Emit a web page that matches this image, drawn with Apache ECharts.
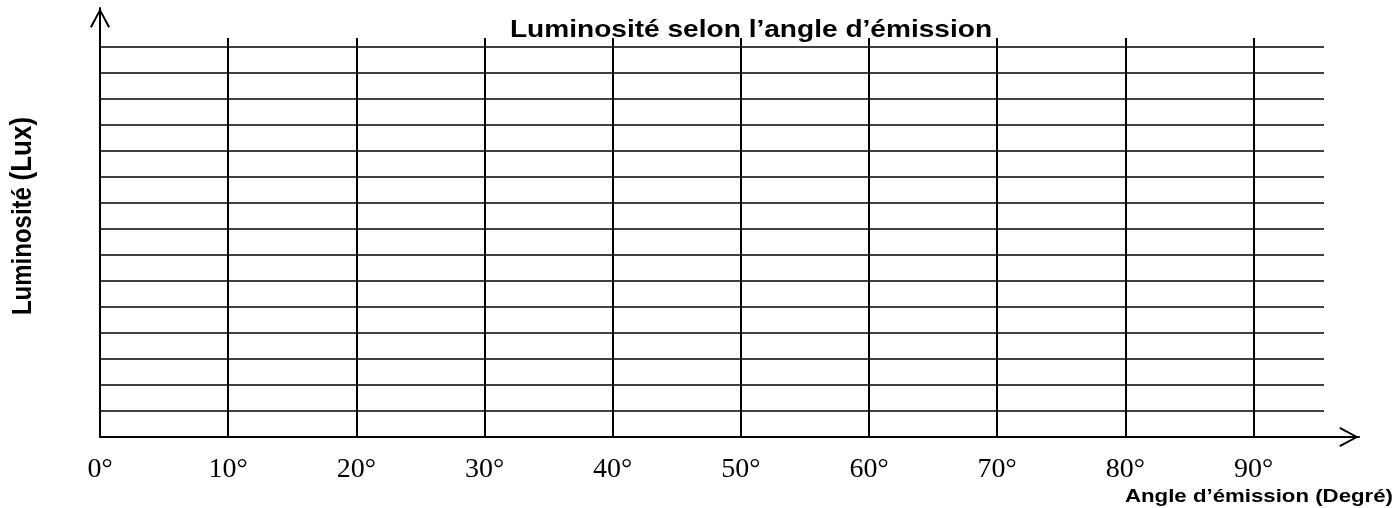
<!DOCTYPE html>
<html>
<head>
<meta charset="utf-8">
<script src="https://cdn.jsdelivr.net/npm/echarts@6/dist/echarts.min.js"></script>
<style>
  html, body { margin: 0; padding: 0; background: #fff; }
  #chart { width: 1396px; height: 508px; }
</style>
</head>
<body>
<div id="chart"></div>
<script>
// axis ranges and tick labels
const angleTicks = [0, 10, 20, 30, 40, 50, 60, 70, 80, 90];
const angleMax = 95.5;        // horizontal grid lines stop a bit past 90°
const angleArrowMax = 98.3;   // the x axis arrow goes further
const luxRows = 15;           // number of horizontal grid rows
const luxArrowMax = 16.5;

const titleText = "Luminosité selon l’angle d’émission";
const yName = "Luminosité ";
const yUnit = "(Lux)";
const xName = "Angle d’émission (Degré)";

// the scanned page is a little stretched sideways
const stretch = 1.17;

const chart = echarts.init(document.getElementById("chart"));

// open chevron pointing up, like the built-in arrow
const chevron = "path://M10,0 L20,18.5 L18.2,19.5 L10,3.8 L1.8,19.5 L0,18.5 Z";

const arrowAxis = (max) => ({
  type: "value",
  min: 0,
  max: max,
  axisLine: {
    show: true,
    lineStyle: { color: "#000", width: 2 },
    symbol: ["none", chevron],
    symbolSize: [20, 20],
    symbolOffset: [0, -10],
  },
  axisTick: { show: false },
  axisLabel: { show: false },
  splitLine: { show: false },
});

const options = {
  animation: false,
  grid: [
    // axes with arrows
    { left: 100, right: 37, top: 8, bottom: 71 },
    // horizontal lines + angle labels
    { left: 100, right: 72, top: 47, bottom: 71 },
    // vertical lines, a little taller
    { left: 100, right: 72, top: 38, bottom: 71 },
  ],
  xAxis: [
    { gridIndex: 0, ...arrowAxis(angleArrowMax) },
    {
      gridIndex: 1,
      type: "value",
      min: 0,
      max: angleMax,
      interval: 10,
      axisLine: { show: false },
      axisTick: { show: false },
      axisLabel: {
        margin: 19,
        showMaxLabel: false,
        fontFamily: "Liberation Serif",
        fontSize: 28,
        color: "#000",
        formatter: (v) => (angleTicks.includes(v) ? v + "°" : ""),
      },
      splitLine: { show: false },
    },
    {
      gridIndex: 2,
      type: "value",
      min: 0,
      max: angleMax,
      interval: 10,
      axisLine: { show: false },
      axisTick: { show: false },
      axisLabel: { show: false },
      splitLine: {
        show: true,
        showMaxLine: false,
        lineStyle: { color: "#000", width: 2, type: "solid" },
      },
    },
  ],
  yAxis: [
    { gridIndex: 0, ...arrowAxis(luxArrowMax) },
    {
      gridIndex: 1,
      type: "value",
      min: 0,
      max: luxRows,
      interval: 1,
      axisLine: { show: false },
      axisTick: { show: false },
      axisLabel: { show: false },
      splitLine: {
        show: true,
        lineStyle: { color: "#000", width: 1.6, type: "solid" },
      },
    },
    {
      gridIndex: 2,
      type: "value",
      min: 0,
      max: 1,
      axisLine: { show: false },
      axisTick: { show: false },
      axisLabel: { show: false },
      splitLine: { show: false },
    },
  ],
  graphic: [
    {
      type: "text",
      x: 751,
      y: 30,
      scaleX: stretch,
      style: {
        text: titleText,
        align: "center",
        verticalAlign: "middle",
        fontFamily: "Liberation Sans",
        fontWeight: "bold",
        fontSize: 24,
        fill: "#000",
      },
    },
    {
      type: "text",
      x: 23,
      y: 216,
      rotation: Math.PI / 2,
      scaleY: stretch,
      style: {
        text: "{a|" + yName + "}{b|" + yUnit + "}",
        align: "center",
        verticalAlign: "middle",
        rich: {
          a: { fontFamily: "Liberation Sans", fontWeight: "bold", fontSize: 24, fill: "#000" },
          b: { fontFamily: "Liberation Sans", fontWeight: "bold", fontSize: 26, fill: "#000" },
        },
      },
    },
    {
      type: "text",
      x: 1259,
      y: 497,
      scaleX: stretch,
      style: {
        text: xName,
        align: "center",
        verticalAlign: "middle",
        fontFamily: "Liberation Sans",
        fontWeight: "bold",
        fontSize: 19,
        fill: "#000",
      },
    },
  ],
  series: [],
};

chart.setOption(options);
</script>
</body>
</html>
